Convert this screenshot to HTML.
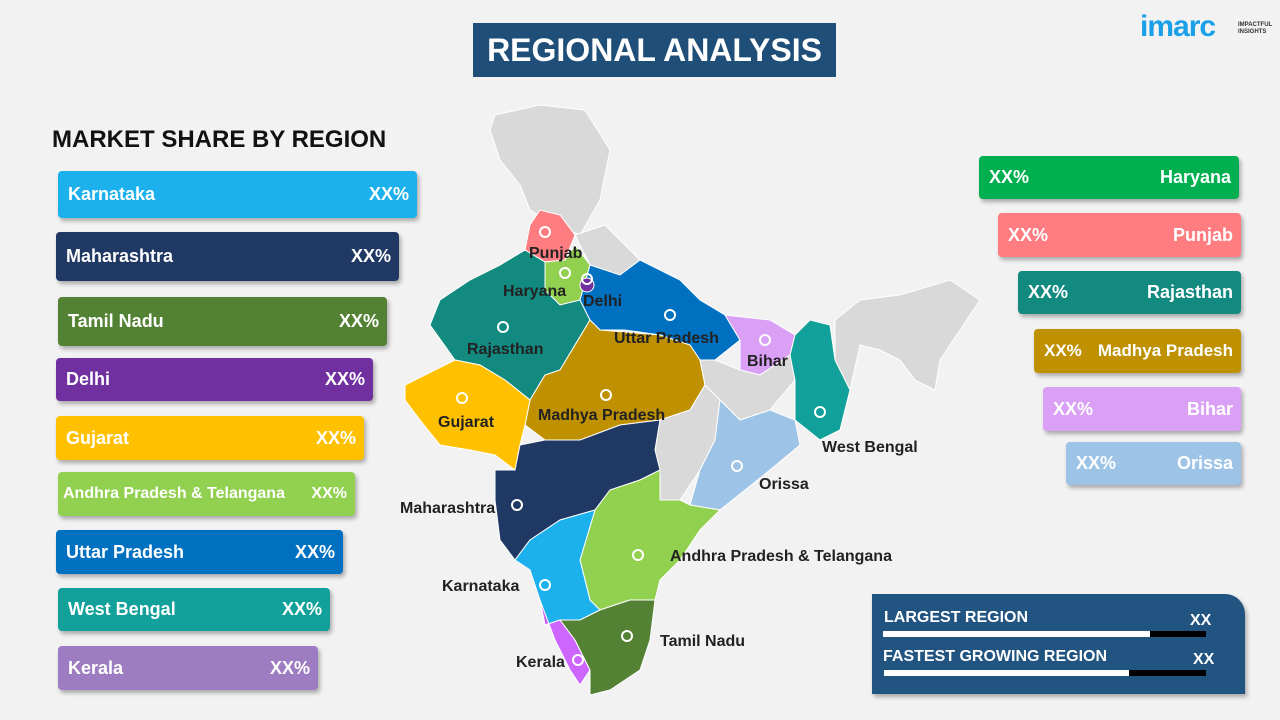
<!DOCTYPE html>
<html><head><meta charset="utf-8"><style>
body{margin:0;width:1280px;height:720px;background:#f2f2f2;font-family:"Liberation Sans",sans-serif;position:relative;overflow:hidden}
.bar{position:absolute;color:#fff;font-weight:bold;font-size:18px;border-radius:4px;box-shadow:2px 3px 4px rgba(0,0,0,.3);display:flex;align-items:center;justify-content:space-between;padding:0 8px 0 10px;box-sizing:border-box}
.title{position:absolute;left:473px;top:23px;width:363px;height:54px;background:#1f4e79;color:#fff;font-size:32px;font-weight:bold;display:flex;align-items:center;justify-content:center}
.lbl{font:bold 16px "Liberation Sans",sans-serif;fill:#222}
</style></head><body>
<div class="title">REGIONAL ANALYSIS</div>
<div style="position:absolute;left:52px;top:126px;font-size:24px;font-weight:bold;color:#111">MARKET SHARE BY REGION</div>
<div style="position:absolute;left:1140px;top:10px;font-size:30px;font-weight:bold;color:#1aa0e8;letter-spacing:-1px">imarc</div>
<div style="position:absolute;left:1238px;top:22px;font-size:6px;font-weight:bold;color:#333;line-height:7px">IMPACTFUL<br>INSIGHTS</div>

<div class="bar" style="left:58px;top:171px;width:359px;height:47px;background:#1cb1ec"><span>Karnataka</span><span>XX%</span></div>
<div class="bar" style="left:56px;top:232px;width:343px;height:49px;background:#203864"><span>Maharashtra</span><span>XX%</span></div>
<div class="bar" style="left:58px;top:297px;width:329px;height:49px;background:#548235"><span>Tamil Nadu</span><span>XX%</span></div>
<div class="bar" style="left:56px;top:358px;width:317px;height:43px;background:#7030a0"><span>Delhi</span><span>XX%</span></div>
<div class="bar" style="left:56px;top:416px;width:308px;height:44px;background:#ffc000"><span>Gujarat</span><span>XX%</span></div>
<div class="bar" style="left:58px;top:472px;width:297px;height:44px;background:#92d050;font-size:16px;padding-left:5px"><span>Andhra Pradesh &amp; Telangana</span><span>XX%</span></div>
<div class="bar" style="left:56px;top:530px;width:287px;height:44px;background:#0070c0"><span>Uttar Pradesh</span><span>XX%</span></div>
<div class="bar" style="left:58px;top:588px;width:272px;height:43px;background:#12a19a"><span>West Bengal</span><span>XX%</span></div>
<div class="bar" style="left:58px;top:646px;width:260px;height:44px;background:#9e7cc1"><span>Kerala</span><span>XX%</span></div>

<div class="bar" style="left:979px;top:156px;width:260px;height:43px;background:#00b050"><span>XX%</span><span>Haryana</span></div>
<div class="bar" style="left:998px;top:213px;width:243px;height:44px;background:#ff7c80"><span>XX%</span><span>Punjab</span></div>
<div class="bar" style="left:1018px;top:271px;width:223px;height:43px;background:#138a80"><span>XX%</span><span>Rajasthan</span></div>
<div class="bar" style="left:1034px;top:329px;width:207px;height:44px;background:#bf9000;font-size:17px"><span>XX%</span><span>Madhya Pradesh</span></div>
<div class="bar" style="left:1043px;top:387px;width:198px;height:44px;background:#d9a0f5"><span>XX%</span><span>Bihar</span></div>
<div class="bar" style="left:1066px;top:442px;width:175px;height:43px;background:#9dc3e6"><span>XX%</span><span>Orissa</span></div>

<div style="position:absolute;left:872px;top:594px;width:373px;height:100px;background:#215480;border-top-right-radius:20px;box-shadow:2px 3px 4px rgba(0,0,0,.3);color:#fff;font-weight:bold">
<div style="position:absolute;left:12px;top:15px;font-size:16px">LARGEST REGION</div>
<div style="position:absolute;left:318px;top:18px;font-size:16px">XX</div>
<div style="position:absolute;left:11px;top:37px;width:267px;height:6px;background:#fff"></div>
<div style="position:absolute;left:278px;top:37px;width:56px;height:6px;background:#000"></div>
<div style="position:absolute;left:11px;top:54px;font-size:16px">FASTEST GROWING REGION</div>
<div style="position:absolute;left:321px;top:57px;font-size:16px">XX</div>
<div style="position:absolute;left:12px;top:76px;width:245px;height:6px;background:#fff"></div>
<div style="position:absolute;left:257px;top:76px;width:77px;height:6px;background:#000"></div>
</div>

<svg width="1280" height="720" style="position:absolute;left:0;top:0" stroke="#fff" stroke-width="1">
<polygon fill="#d9d9d9" points="495,115 540,105 585,110 610,150 600,200 580,235 555,225 530,210 520,185 500,160 490,130"/>
<polygon fill="#d9d9d9" points="575,235 605,225 640,260 620,275 590,265"/>
<polygon fill="#d9d9d9" points="835,320 860,300 900,295 950,280 980,300 960,330 940,360 935,390 915,380 900,360 880,350 860,345 850,390 835,360"/>
<polygon fill="#ff7c80" points="540,210 560,215 575,235 565,260 545,262 525,250 530,225"/>
<polygon fill="#92d050" points="545,262 565,260 575,245 590,265 580,300 560,305 545,290"/>
<polygon fill="#138a80" points="525,250 545,262 545,290 560,305 580,300 590,320 575,345 560,370 545,375 530,400 505,380 480,365 455,360 430,325 440,300 470,280 500,265"/>
<polygon fill="#0070c0" points="590,265 620,275 640,260 680,280 700,300 725,315 740,340 715,360 700,360 690,345 660,335 625,330 600,330 590,320 580,300"/>
<circle cx="587" cy="285" r="7" fill="#7030a0"/>
<polygon fill="#d9a0f5" points="725,315 770,320 795,335 790,355 760,375 740,370 740,340"/>
<polygon fill="#bf9000" points="575,345 590,320 600,330 660,335 690,345 700,360 705,385 690,410 660,420 620,425 580,440 545,440 525,425 530,400 545,375 560,370"/>
<polygon fill="#ffc000" points="405,385 455,360 480,365 505,380 530,400 525,425 520,445 515,470 495,455 470,450 440,445 420,420 405,400"/>
<polygon fill="#d9d9d9" points="740,370 760,375 790,355 795,380 770,410 740,420 720,400 705,385 700,360 715,360"/>
<polygon fill="#12a19a" points="795,335 810,320 830,325 835,360 850,390 840,430 820,440 795,420 795,380 790,355"/>
<polygon fill="#d9d9d9" points="690,410 705,385 720,400 715,440 700,470 680,500 660,500 655,450 660,420"/>
<polygon fill="#9dc3e6" points="720,400 740,420 770,410 795,420 800,445 770,470 745,490 720,510 690,505 700,470 715,440"/>
<polygon fill="#203864" points="520,445 545,440 580,440 620,425 660,420 655,450 660,470 640,480 610,490 595,510 560,520 530,540 515,560 500,540 495,500 495,470 515,470"/>
<polygon fill="#92d050" points="610,490 640,480 660,470 660,500 680,500 690,505 720,510 700,530 680,560 660,580 655,600 630,600 600,610 590,600 580,560 595,510"/>
<polygon fill="#1cb1ec" points="530,540 560,520 595,510 580,560 590,600 600,610 580,620 560,620 545,625 540,600 530,570 515,560"/>
<polygon fill="#cc66ff" points="540,600 545,625 560,620 575,640 590,670 580,685 570,670 555,640"/>
<polygon fill="#548235" points="600,610 630,600 655,600 650,640 640,670 610,690 590,695 590,670 575,640 560,620 580,620"/>
<g fill="none" stroke="#fff" stroke-width="2">
<circle cx="545" cy="232" r="5"/><circle cx="565" cy="273" r="5"/><circle cx="587" cy="279" r="5"/><circle cx="503" cy="327" r="5"/><circle cx="670" cy="315" r="5"/><circle cx="765" cy="340" r="5"/><circle cx="606" cy="395" r="5"/><circle cx="462" cy="398" r="5"/><circle cx="820" cy="412" r="5"/><circle cx="737" cy="466" r="5"/><circle cx="517" cy="505" r="5"/><circle cx="638" cy="555" r="5"/><circle cx="545" cy="585" r="5"/><circle cx="627" cy="636" r="5"/><circle cx="578" cy="660" r="5"/>
</g>
<g stroke="none">
<text class="lbl" x="529" y="258">Punjab</text>
<text class="lbl" x="503" y="296">Haryana</text>
<text class="lbl" x="583" y="306">Delhi</text>
<text class="lbl" x="467" y="354">Rajasthan</text>
<text class="lbl" x="614" y="343">Uttar Pradesh</text>
<text class="lbl" x="747" y="366">Bihar</text>
<text class="lbl" x="538" y="420">Madhya Pradesh</text>
<text class="lbl" x="438" y="427">Gujarat</text>
<text class="lbl" x="822" y="452">West Bengal</text>
<text class="lbl" x="759" y="489">Orissa</text>
<text class="lbl" x="400" y="513">Maharashtra</text>
<text class="lbl" x="670" y="561">Andhra Pradesh &amp; Telangana</text>
<text class="lbl" x="442" y="591">Karnataka</text>
<text class="lbl" x="660" y="646">Tamil Nadu</text>
<text class="lbl" x="516" y="667">Kerala</text>
</g>
</svg>
</body></html>
